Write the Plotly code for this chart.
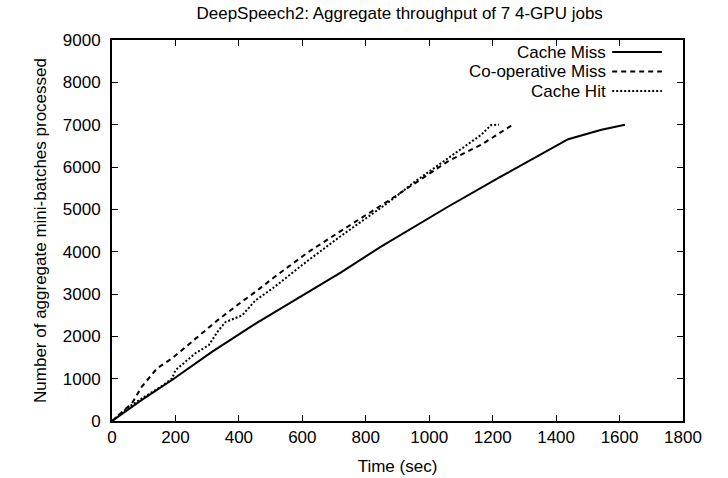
import plotly.graph_objects as go

# ---- data ----
series_names = ["Cache Miss", "Co-operative Miss", "Cache Hit"]

miss_t = [0, 94, 189, 315, 450, 564, 722, 848, 1059, 1228, 1333, 1438, 1543, 1617]
miss_y = [0, 500, 969, 1634, 2290, 2808, 3512, 4120, 5061, 5782, 6211, 6657, 6878, 7000]

coop_t = [0, 63, 94, 142, 189, 252, 336, 406, 452, 511, 617, 722, 827, 870, 1059, 1164, 1259]
coop_y = [0, 422, 812, 1244, 1479, 1869, 2400, 2800, 3050, 3394, 3981, 4491, 5000, 5195, 6134, 6526, 6979]

hit_t = [0, 52, 100, 150, 189, 200, 263, 305, 336, 358, 410, 452, 511, 617, 722, 827, 870, 954, 1059, 1164, 1195, 1220]
hit_y = [0, 330, 560, 790, 1000, 1200, 1600, 1791, 2143, 2338, 2495, 2847, 3160, 3786, 4373, 4920, 5155, 5650, 6200, 6761, 6990, 7000]

x_ticks = [0, 200, 400, 600, 800, 1000, 1200, 1400, 1600, 1800]
y_ticks = [0, 1000, 2000, 3000, 4000, 5000, 6000, 7000, 8000, 9000]

dashes = ["solid", "5px,4px", "2px,2px"]
FONT = "Liberation Sans, Arial, sans-serif"
FS = 17

fig = go.Figure()
for name, t, y, d in zip(series_names, [miss_t, coop_t, hit_t], [miss_y, coop_y, hit_y], dashes):
    fig.add_trace(go.Scatter(x=t, y=y, mode="lines", name=name, showlegend=False,
                             line=dict(color="black", width=2, dash=d)))

# custom gnuplot-style legend: right-aligned text, line sample to the right
legend_top = 0.9685
row_h = 0.0512
for i, (name, d) in enumerate(zip(series_names, dashes)):
    yy = legend_top - i * row_h
    fig.add_annotation(xref="paper", yref="paper", x=0.864, y=yy, text=name, showarrow=False,
                       xanchor="right", yanchor="middle", xshift=3,
                       font=dict(size=FS, color="black", family=FONT))
    fig.add_shape(type="line", xref="paper", yref="paper", x0=0.876, x1=0.963, y0=yy, y1=yy,
                  line=dict(color="black", width=2, dash=d))

axis_common = dict(showline=True, linecolor="black", linewidth=2, mirror="ticks",
                   ticks="inside", ticklen=6, tickwidth=1, tickcolor="black",
                   showgrid=False, zeroline=False, automargin=False,
                   tickfont=dict(size=FS, color="black", family=FONT))

fig.update_xaxes(range=[0, 1800], tickvals=x_ticks, ticktext=[str(v) for v in x_ticks],
                 title=dict(text="Time (sec)", font=dict(size=FS, color="black", family=FONT), standoff=14),
                 **axis_common)
fig.update_yaxes(range=[0, 9000], tickvals=y_ticks, ticktext=[str(v) for v in y_ticks],
                 ticklabelstandoff=6,
                 title=dict(text="Number of aggregate mini-batches processed",
                            font=dict(size=FS, color="black", family=FONT), standoff=12),
                 **axis_common)

fig.update_layout(
    width=728, height=478,
    margin=dict(l=112, r=45, t=40, b=57),
    paper_bgcolor="white", plot_bgcolor="white",
    title=dict(text="DeepSpeech2: Aggregate throughput of 7 4-GPU jobs", x=0.549, xanchor="center",
               y=0.973, yanchor="middle", font=dict(size=FS, color="black", family=FONT)),
    font=dict(family=FONT, color="black"),
)

fig.write_html("out.html", config={"displayModeBar": False},
               post_script="document.body.style.margin='0';")
